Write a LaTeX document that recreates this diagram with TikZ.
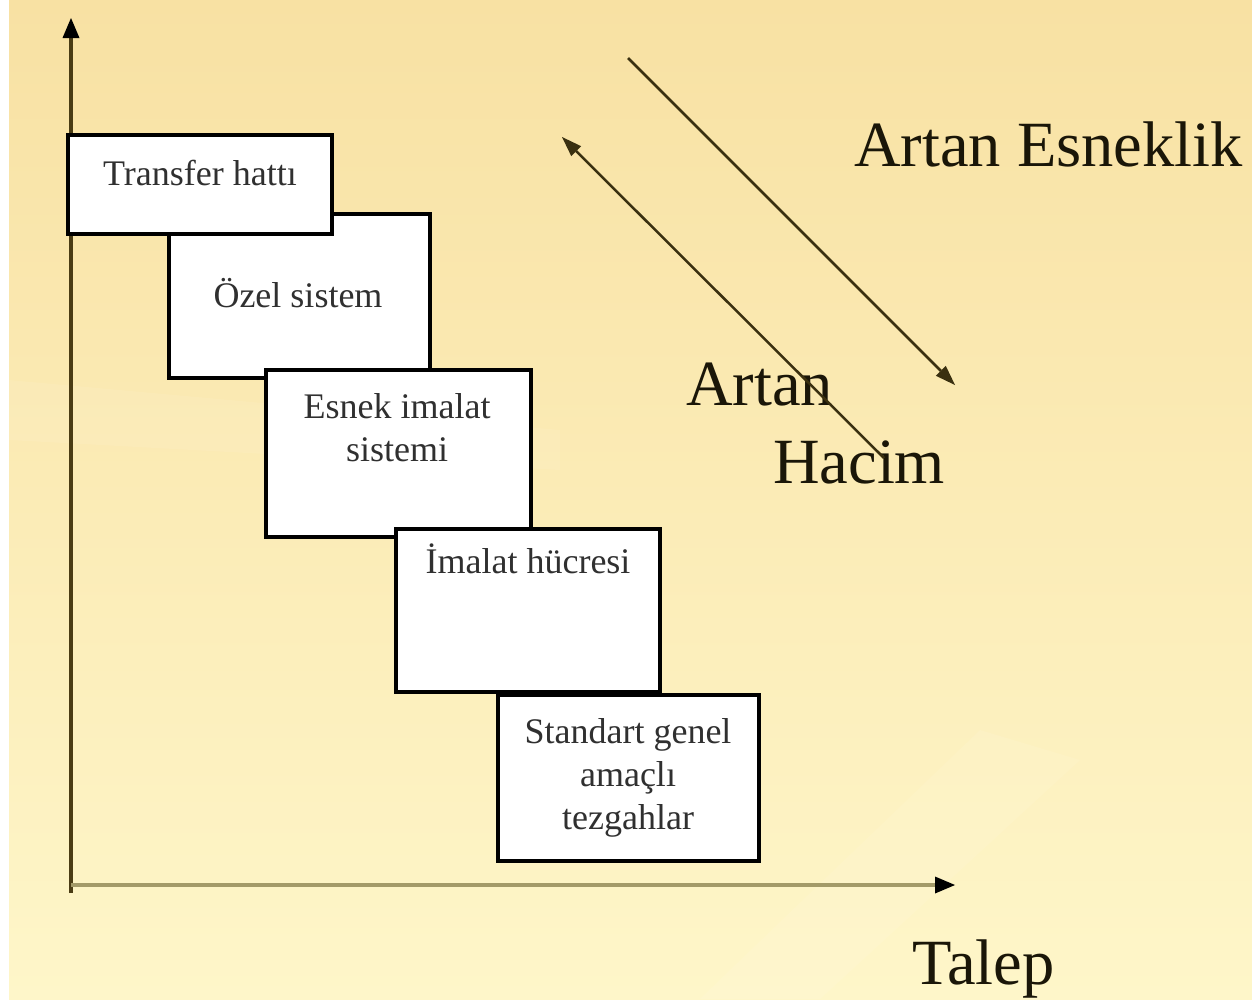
\documentclass[tikz,border=0pt]{standalone}
\usepackage{fontspec}
\setmainfont{Liberation Serif}
\usetikzlibrary{arrows.meta}

\definecolor{bgtop}{HTML}{F8E1A3}
\definecolor{bgbot}{HTML}{FEF6C9}
\definecolor{axisdark}{HTML}{4A3C14}
\definecolor{axislight}{HTML}{A39A68}
\definecolor{diag}{HTML}{3A3010}
\definecolor{boxtext}{HTML}{303030}
\definecolor{labeltext}{HTML}{1A1608}

\tikzset{
  stagebox/.style={draw=black, line width=3.5pt, fill=white, anchor=north west,
    inner sep=0pt, outer sep=0pt},
  stagetext/.style={text=boxtext, align=center, anchor=base,
    font=\fontsize{36}{43}\selectfont, inner sep=0pt},
  biglabel/.style={text=labeltext, anchor=base west, inner sep=0pt,
    font=\fontsize{64.5}{78}\selectfont},
  axistip/.style={-{Triangle[length=20pt,width=17pt,line width=0pt,black]}},
  diagarrow/.style={draw=diag, line width=2.5pt, -{Triangle[length=20pt,width=14pt,line width=0pt]}}
}

\begin{document}
\begin{tikzpicture}[x=1pt,y=-1pt]
  \useasboundingbox (0,0) rectangle (1252,1002);
  \fill[white] (0,0) rectangle (1252,1002);

  % slide background: warm cream gradient with faint soft streaks
  \shade[top color=bgtop, bottom color=bgbot] (9,0) rectangle (1252,999);
  \fill[white, opacity=0.08] (700,999) -- (980,730) -- (1080,760) -- (820,999) -- cycle;
  \fill[white, opacity=0.07] (9,380) -- (560,430) -- (560,470) -- (9,440) -- cycle;

  % axes
  \coordinate (origin) at (71,893);
  \coordinate (ytop) at (71,18);
  \coordinate (xcorner) at (71,885);
  \coordinate (xend) at (955,885);
  \draw[axisdark, line width=3.3pt, axistip] (origin) -- (ytop);
  \draw[axislight, line width=4.5pt, axistip] (xcorner) -- (xend);

  % stages, stepping down from the top left
  \node[stagebox, minimum width=261pt, minimum height=164pt] (b2) at (169,214) {};
  \node[stagebox, minimum width=264pt, minimum height=99pt]  (b1) at (68,135) {};
  \node[stagebox, minimum width=265pt, minimum height=167pt] (b3) at (266,370) {};
  \node[stagebox, minimum width=264pt, minimum height=163pt] (b4) at (396,529) {};
  \node[stagebox, minimum width=261pt, minimum height=166pt] (b5) at (498,695) {};

  % text baselines (multi-line nodes sit on their last line)
  \node[stagetext] (t1) at (200,185) {Transfer hattı};
  \node[stagetext] (t2) at (298,307) {Özel sistem};
  \node[stagetext] (t3) at (397,461) {Esnek imalat\\sistemi};
  \node[stagetext] (t4) at (528,573) {İmalat hücresi};
  \node[stagetext] (t5) at (628,829) {Standart genel\\amaçlı\\tezgahlar};

  % trend arrows
  \coordinate (flexstart) at (628,58);
  \coordinate (flexend) at (955,385);
  \coordinate (volstart) at (884,458);
  \coordinate (volend) at (562,137);
  \draw[diagarrow] (flexstart) -- (flexend);

  \node[biglabel] (flex) at (854,166) {Artan Esneklik};
  \node[biglabel] (vol1) at (686,405) {Artan};
  \node[biglabel] (vol2) at (773,483) {Hacim};
  \node[biglabel] (talep) at (912,984) {Talep};

  \draw[diagarrow] (volstart) -- (volend);
\end{tikzpicture}
\end{document}
